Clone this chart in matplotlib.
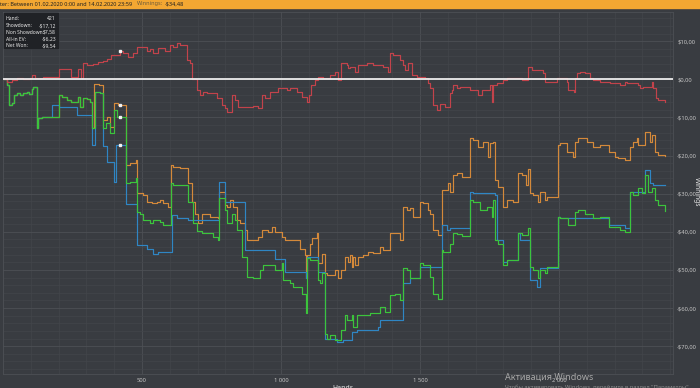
import numpy as np
import matplotlib.pyplot as plt
from matplotlib.patches import Rectangle
from matplotlib.ticker import MultipleLocator, FixedLocator, FuncFormatter

plt.rcParams['font.family'] = ['Noto Sans', 'DejaVu Sans']

# cumulative winnings ($) against hand number (change points)
green_hands = [0, 13, 23, 31, 40, 49, 61, 73, 85, 95, 103, 109, 121, 127, 139, 203, 211, 229, 243, 271,
               277, 286, 303, 313, 319, 331, 349, 361, 370, 385, 400, 411, 442, 457, 478, 481, 493, 505,
               529, 541, 565, 577, 604, 613, 667, 685, 699, 715, 757, 775, 778, 798, 804, 822, 834, 840,
               858, 876, 900, 924, 936, 966, 978, 1002, 1008, 1032, 1044, 1074, 1090, 1095, 1104, 1134,
               1140, 1146, 1158, 1164, 1176, 1194, 1216, 1230, 1236, 1254, 1260, 1272, 1320, 1356, 1374,
               1392, 1410, 1428, 1440, 1452, 1464, 1500, 1512, 1536, 1548, 1566, 1578, 1584, 1608, 1620,
               1632, 1650, 1680, 1692, 1716, 1740, 1758, 1764, 1770, 1782, 1800, 1812, 1854, 1866, 1890,
               1896, 1908, 1926, 1932, 1950, 1956, 1998, 2004, 2034, 2058, 2070, 2094, 2124, 2148, 2178,
               2219, 2237, 2255, 2267, 2285, 2297, 2309, 2321, 2333, 2345, 2357, 2381]
green_won = [0, -1.5, -6.7, -6.1, -4.1, -3.7, -4.1, -3.5, -3.2, -3.8, -2.6, -1.9, -12.9, -10.2, -9.8, -4.1,
             -4.7, -5.4, -5.9, -4.7, -7.2, -5.0, -5.2, -5.9, -12.9, -3.2, -3.7, -12.9, -11.5, -14.0, -8.0,
             -9.8, -27.3, -26.9, -26.0, -34.7, -35.2, -36.9, -37.8, -37.0, -37.4, -38.2, -27.3, -27.7,
             -32.1, -37.8, -39.9, -40.4, -41.3, -42.2, -31.2, -34.3, -37.8, -35.2, -36.9, -39.5, -46.5,
             -51.8, -52.2, -50.0, -48.7, -48.7, -50.0, -48.3, -52.7, -53.5, -54.4, -56.2, -61.4, -46.9,
             -47.4, -52.7, -53.5, -50.9, -66.7, -68.0, -67.0, -68.4, -65.8, -61.9, -63.2, -61.9, -64.9,
             -61.9, -61.4, -59.7, -61.0, -56.6, -56.2, -57.9, -49.6, -50.0, -52.2, -48.3, -48.7, -51.8,
             -56.2, -57.5, -44.8, -45.2, -43.3, -40.2, -40.7, -41.1, -31.7, -32.1, -34.3, -33.4, -36.0,
             -31.7, -42.2, -43.1, -48.7, -47.4, -40.4, -40.8, -39.1, -49.2, -50.1, -52.2, -50.1, -50.9,
             -49.2, -36.0, -36.5, -38.2, -34.7, -34.3, -35.2, -36.5, -36.0, -38.7, -39.6, -40.0, -29.5,
             -30.4, -28.6, -29.9, -25.1, -29.5, -28.6, -31.7, -33.0, -34.48]

ev_hands = [0, 13, 23, 31, 40, 49, 61, 73, 85, 95, 103, 109, 121, 127, 139, 175, 203, 265, 319, 331, 349,
            361, 373, 400, 406, 442, 481, 517, 541, 559, 607, 625, 667, 777, 798, 870, 978, 1014, 1090,
            1095, 1134, 1158, 1200, 1224, 1254, 1272, 1350, 1356, 1438, 1464, 1500, 1578, 1596, 1608,
            1680, 1692, 1770, 1776, 1800, 1812, 1854, 1860, 1896, 1920, 1932, 1998, 2004, 2178, 2237,
            2255, 2309, 2327, 2339, 2381]
ev_won = [0, -1.5, -6.7, -6.1, -4.1, -3.7, -4.1, -3.5, -3.2, -3.8, -2.6, -1.9, -12.9, -10.2, -9.8, -6.7,
          -7.2, -9.4, -17.2, -3.2, -3.7, -17.6, -21.6, -26.9, -17.2, -32.8, -43.5, -44.6, -45.7, -45.3,
          -35.6, -36.5, -36.9, -26.9, -32.1, -44.9, -47.1, -50.5, -52.2, -46.5, -50.5, -68.0, -68.9,
          -68.4, -66.2, -65.8, -64.9, -63.2, -53.5, -52.2, -49.2, -38.2, -39.5, -39.1, -29.5, -29.9,
          -30.3, -42.2, -47.9, -47.4, -40.4, -42.2, -52.7, -54.4, -49.6, -36.0, -36.5, -38.2, -39.1,
          -29.5, -23.8, -27.3, -27.8, -27.8]

sd_hands = [0, 13, 23, 31, 40, 49, 61, 73, 85, 95, 103, 109, 121, 127, 139, 203, 211, 229, 243, 271, 277,
            286, 303, 313, 319, 328, 345, 361, 373, 385, 400, 415, 442, 457, 478, 481, 505, 517, 535, 553,
            565, 577, 595, 604, 613, 637, 667, 679, 691, 703, 715, 745, 775, 778, 798, 804, 816, 828, 840,
            852, 870, 876, 918, 930, 954, 966, 978, 1002, 1014, 1068, 1086, 1090, 1095, 1104, 1110, 1128,
            1134, 1146, 1158, 1164, 1194, 1206, 1216, 1230, 1242, 1248, 1254, 1260, 1266, 1278, 1296,
            1314, 1332, 1356, 1368, 1392, 1428, 1440, 1452, 1464, 1476, 1500, 1512, 1530, 1536, 1548,
            1566, 1578, 1602, 1608, 1620, 1632, 1650, 1680, 1692, 1710, 1728, 1746, 1752, 1764, 1770,
            1782, 1800, 1812, 1836, 1854, 1866, 1881, 1890, 1896, 1908, 1926, 1932, 1950, 1956, 1998,
            2004, 2028, 2052, 2058, 2070, 2100, 2124, 2148, 2178, 2202, 2213, 2237, 2255, 2267, 2279,
            2285, 2309, 2327, 2333, 2345, 2357, 2381]
sd_won = [0, -1.5, -6.7, -6.1, -4.1, -3.7, -4.1, -3.5, -3.2, -3.8, -2.6, -1.9, -12.9, -10.2, -9.8, -4.1,
          -4.7, -5.4, -5.9, -4.7, -7.2, -5.0, -5.2, -5.9, -12.9, -1.2, -1.6, -10.7, -9.8, -12.4, -6.3,
          -6.7, -22.5, -22.0, -21.2, -29.9, -30.3, -32.1, -32.5, -32.1, -31.7, -32.5, -33.4, -22.5,
          -22.9, -23.3, -27.3, -32.1, -35.2, -37.8, -35.2, -36.0, -36.5, -29.5, -33.0, -33.4, -31.7,
          -33.4, -36.9, -37.8, -39.5, -42.2, -41.3, -39.5, -40.0, -38.7, -40.0, -41.3, -42.2, -44.5,
          -46.2, -52.2, -46.2, -43.1, -41.7, -40.4, -48.3, -45.7, -50.9, -51.4, -50.1, -52.2, -50.1,
          -46.5, -47.8, -46.1, -49.2, -46.5, -48.7, -46.5, -46.1, -45.2, -45.6, -43.9, -44.8, -40.4,
          -42.2, -33.4, -34.3, -33.8, -36.0, -32.1, -32.5, -34.3, -35.2, -39.5, -40.8, -29.0, -27.3,
          -29.5, -25.1, -24.7, -25.5, -15.5, -15.9, -17.7, -16.4, -20.3, -16.8, -16.4, -26.4, -28.2,
          -33.4, -31.7, -32.1, -24.7, -25.1, -27.7, -23.4, -29.9, -30.3, -32.1, -29.5, -31.7, -30.8,
          -17.2, -16.8, -19.0, -20.3, -16.4, -15.5, -16.4, -17.7, -17.2, -19.0, -20.3, -20.7, -21.2,
          -17.7, -16.4, -15.5, -17.2, -13.7, -16.4, -14.7, -19.0, -19.9, -20.2]

nsd_hands = [0, 13, 31, 49, 73, 97, 103, 115, 145, 169, 203, 243, 271, 279, 289, 303, 325, 343, 361, 373,
             388, 397, 421, 433, 451, 469, 481, 505, 517, 529, 541, 559, 583, 601, 613, 625, 637, 663, 673,
             679, 697, 709, 721, 733, 769, 787, 799, 804, 822, 834, 846, 900, 918, 930, 942, 960, 990,
             1020, 1032, 1056, 1074, 1095, 1102, 1107, 1122, 1134, 1152, 1176, 1194, 1206, 1216, 1236,
             1242, 1248, 1266, 1278, 1308, 1332, 1368, 1386, 1392, 1404, 1428, 1440, 1446, 1458, 1470,
             1488, 1518, 1530, 1536, 1548, 1560, 1572, 1590, 1608, 1614, 1620, 1632, 1644, 1680, 1710,
             1722, 1752, 1758, 1764, 1776, 1800, 1812, 1866, 1890, 1902, 1944, 1950, 1992, 2028, 2034,
             2054, 2058, 2064, 2076, 2094, 2112, 2124, 2148, 2184, 2219, 2237, 2243, 2285, 2291, 2303,
             2333, 2339, 2349, 2357, 2381]
nsd_won = [0, -0.6, -0.3, 0.3, 0.2, 0.3, 1.1, 0.3, 0.5, 0.7, 2.6, 0.7, 2.6, 0.3, 4.4, 3.7, 3.9, 4.6, 4.8,
           5.3, 6.3, 6.3, 7.5, 6.8, 5.9, 6.8, 8.6, 8.4, 7.3, 7.9, 6.8, 8.1, 7.3, 9.0, 8.6, 9.4, 9.0, 5.1,
           4.2, 0.0, -2.8, -4.1, -3.2, -3.7, -5.0, -6.7, -7.6, -8.5, -4.1, -5.4, -7.3, -7.1, -7.6, -4.1,
           -5.0, -3.2, -2.4, -2.8, -2.4, -3.2, -4.6, -5.9, -4.1, -1.5, -0.2, 0.7, 0.3, 1.1, 2.0, -0.2,
           4.2, 3.7, 2.9, 3.3, 2.0, 3.7, 4.2, 3.7, 3.3, 2.0, 6.8, 6.3, 5.0, 3.7, 2.4, 4.2, 1.1, 0.7, 0.3,
           -1.0, -2.4, -6.7, -8.0, -6.5, -7.2, -3.7, -2.8, -1.5, -2.4, -1.9, -2.8, -4.1, -2.8, -1.5, -5.9,
           -1.5, -1.0, -0.2, 0.3, -0.2, 3.3, 2.4, 1.6, -0.6, 0.3, -0.6, -2.8, -3.2, 0.3, 1.6, 2.0, 1.6,
           0.3, -0.2, -0.6, -1.0, -1.5, -0.6, -1.0, -1.5, -2.4, -1.9, -0.6, -2.4, -5.0, -5.4, -5.9]

y_ticks = [10, 0, -10, -20, -30, -40, -50, -60, -70]
x_ticks = [500, 1000, 1500, 2000]
x_labels = ["500", "1 000", "1 500", "2 000"]
hover_hand = 421
summary = [("Hand:", "421"), ("Showdown:", "-$17,12"), ("Non Showdown:", "$7,58"),
           ("All-in EV:", "-$6,23"), ("Net Won:", "-$9,54")]

BG = "#393c41"
W, H = 700, 388

fig = plt.figure(figsize=(W / 100, H / 100), dpi=100, facecolor=BG)
ax = fig.add_axes([3 / W, 1 - 374 / H, 670 / W, 362 / H], facecolor=BG)

ax.plot(sd_hands, sd_won, drawstyle="steps-post", color="#d4893a", lw=0.85)
ax.plot(ev_hands, ev_won, drawstyle="steps-post", color="#2f86c4", lw=0.85)
ax.plot(green_hands, green_won, drawstyle="steps-post", color="#3cc43c", lw=0.85)
ax.plot(nsd_hands, nsd_won, drawstyle="steps-post", color="#c2434b", lw=0.85)
ax.axhline(0, color="#ececec", lw=1.3, zorder=5)

# hovered hand markers
for hs, vs in [(sd_hands, sd_won), (ev_hands, ev_won), (green_hands, green_won), (nsd_hands, nsd_won)]:
    i = np.searchsorted(hs, hover_hand, side="right") - 1
    ax.plot(hover_hand, vs[i], "s", ms=1.8, color="#f2f2f2", zorder=6)

ax.set_xlim(0, 2410)
ax.set_ylim(-77.3, 17.66)
ax.xaxis.set_major_locator(FixedLocator(x_ticks))
ax.set_xticklabels(x_labels)
ax.xaxis.set_minor_locator(MultipleLocator(100))
ax.yaxis.set_major_locator(FixedLocator(y_ticks))
ax.yaxis.set_minor_locator(MultipleLocator(2))
ax.yaxis.set_major_formatter(FuncFormatter(
    lambda v, p: ("-$" if v < 0 else "$") + f"{abs(v):.2f}".replace(".", ",")))
ax.yaxis.tick_right()
ax.tick_params(which="both", length=0, colors="#c4c4c4", labelsize=4.2)
ax.tick_params(axis="x", pad=3)
ax.tick_params(axis="y", pad=3)
ax.grid(which="major", color="#4d5055", lw=0.6)
ax.grid(which="minor", color="#42454a", lw=0.5)
ax.set_axisbelow(True)
for s in ax.spines.values():
    s.set_color("#4d5055")
    s.set_linewidth(0.6)

fig.text(696.5 / W, 1 - 192 / H, "Winnings", rotation=270, ha="center", va="center",
         fontsize=4.8, color="#e6e6e6", weight="bold")
fig.text(343 / W, 1 - 389 / H, "Hands", ha="center", va="center", fontsize=5,
         color="#e6e6e6", weight="bold")

# filter bar on top
fig.patches.append(Rectangle((0, 1 - 8 / H), 1, 8 / H, transform=fig.transFigure,
                             color="#f3a732", zorder=0))
fig.text(-6 / W, 1 - 4 / H, "Filter: Between 01.02.2020 0:00 and 14.02.2020 23:59",
         fontsize=4, weight="bold", color="#222222", va="center")
fig.text(137 / W, 1 - 4 / H, "Winnings:", fontsize=4, color="#6b5a3a", va="center")
fig.text(165 / W, 1 - 4 / H, "-$34,48", fontsize=4, weight="bold", color="#222222", va="center")

# hover summary box
fig.patches.append(Rectangle((4 / W, 1 - 48 / H), 54 / W, 35 / H, transform=fig.transFigure,
                             color="#202226", zorder=10))
for k, (lab, val) in enumerate(summary):
    y = 1 - (19 + 6.7 * k) / H
    fig.text(6 / W, y, lab, fontsize=3.6, color="#e8e8e8", va="center", zorder=11)
    fig.text(56 / W, y, val, fontsize=3.6, color="#e8e8e8", va="center", ha="right", zorder=11)

# windows activation watermark
fig.text(505 / W, 1 - 377 / H, "Активация Windows", fontsize=6.5, color="#a8a8a8", va="center")
fig.text(505 / W, 1 - 387 / H, "Чтобы активировать Windows, перейдите в раздел \"Параметры\".",
         fontsize=4.2, color="#8e8e8e", va="center")

fig.savefig("out.png", dpi=100, facecolor=BG)
